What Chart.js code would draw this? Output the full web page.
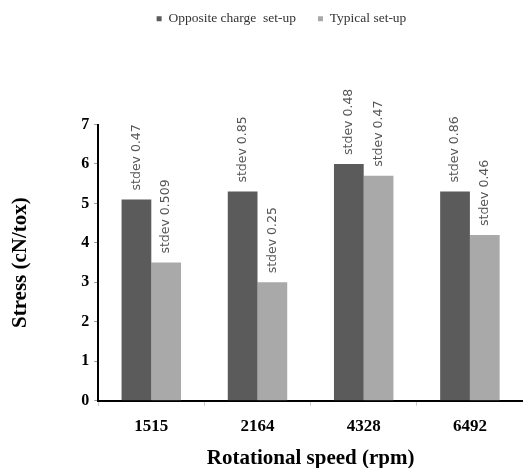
<!DOCTYPE html>
<html>
<head>
<meta charset="utf-8">
<script src="https://cdn.jsdelivr.net/npm/chart.js@4"></script>
<style>
  html, body { margin: 0; padding: 0; background: #fff; }
  #wrap { width: 523px; height: 468px; position: relative; }
</style>
</head>
<body>
<div id="wrap"><canvas id="grafico"></canvas></div>
<script>
// datos
const velocidades = ["1515", "2164", "4328", "6492"];
const cargaOpuesta = [5.1, 5.3, 6.0, 5.3];
const tipico = [3.5, 3.0, 5.7, 4.2];
const stdevOpuesta = ["0.47", "0.85", "0.48", "0.86"];
const stdevTipico = ["0.509", "0.25", "0.47", "0.46"];
const ticksY = [0, 1, 2, 3, 4, 5, 6, 7];

const serif = "'Liberation Serif', 'Times New Roman', serif";

// espacio extra bajo la leyenda y pequeño desplazamiento
const margenLeyenda = {
  id: "margenLeyenda",
  beforeInit(chart) {
    const fitOriginal = chart.legend.fit;
    chart.legend.fit = function () {
      fitOriginal.bind(chart.legend)();
      this.height += 79;
    };
  },
  afterLayout(chart) {
    const l = chart.legend;
    l.left += 18;
    l.right += 18;
    l.top -= 10;
    l.bottom -= 10;
  }
};

// etiquetas verticales "stdev" encima de cada barra
const etiquetasStdev = {
  id: "etiquetasStdev",
  afterDatasetsDraw(chart) {
    const ctx = chart.ctx;
    const textos = [stdevOpuesta, stdevTipico];
    chart.data.datasets.forEach((ds, i) => {
      const meta = chart.getDatasetMeta(i);
      meta.data.forEach((bar, j) => {
        ctx.save();
        ctx.translate(bar.x, bar.y - 9);
        ctx.rotate(-Math.PI / 2);
        ctx.font = "12.5px 'DejaVu Sans'";
        ctx.fillStyle = "#555";
        ctx.textAlign = "left";
        ctx.textBaseline = "middle";
        ctx.fillText("stdev " + textos[i][j], 0, 0);
        ctx.restore();
      });
    });
  }
};

const ctx = document.getElementById("grafico").getContext("2d");

new Chart(ctx, {
  type: "bar",
  data: {
    labels: velocidades,
    datasets: [
      {
        label: "Opposite charge  set-up",
        data: cargaOpuesta,
        backgroundColor: "#5b5b5b",
        borderWidth: 0
      },
      {
        label: "Typical set-up",
        data: tipico,
        backgroundColor: "#a9a9a9",
        borderWidth: 0
      }
    ]
  },
  options: {
    responsive: true,
    maintainAspectRatio: false,
    animation: false,
    layout: { padding: { left: 4, right: 0, top: 0, bottom: 0 } },
    datasets: {
      bar: { categoryPercentage: 0.56, barPercentage: 1.0 }
    },
    plugins: {
      legend: {
        position: "top",
        labels: {
          boxWidth: 5,
          boxHeight: 5,
          padding: 22,
          color: "#333",
          font: { family: serif, size: 13.5 }
        }
      },
      tooltip: { enabled: false }
    },
    scales: {
      x: {
        grid: {
          display: true,
          offset: true,
          drawOnChartArea: false,
          drawTicks: true,
          tickLength: 5,
          color: "#ccc"
        },
        border: { display: true, color: "#000", width: 2 },
        ticks: {
          color: "#000",
          padding: 11,
          font: { family: serif, size: 17, weight: "bold" }
        },
        title: {
          display: true,
          text: "Rotational speed (rpm)",
          color: "#000",
          padding: { top: 1, bottom: 0 },
          font: { family: serif, size: 21, weight: "bold", lineHeight: 0.9 }
        }
      },
      y: {
        min: 0,
        max: 7,
        afterBuildTicks(scale) {
          scale.ticks = ticksY.map(v => ({ value: v }));
        },
        grid: {
          display: true,
          drawOnChartArea: false,
          drawTicks: true,
          tickLength: 4,
          color: "#999"
        },
        border: { display: true, color: "#000", width: 2 },
        ticks: {
          color: "#000",
          padding: 5,
          font: { family: serif, size: 16, weight: "bold" }
        },
        title: {
          display: true,
          text: "Stress (cN/tox)",
          color: "#000",
          padding: { top: 4, bottom: 43 },
          font: { family: serif, size: 21, weight: "bold" }
        }
      }
    }
  },
  plugins: [margenLeyenda, etiquetasStdev]
});
</script>
</body>
</html>
